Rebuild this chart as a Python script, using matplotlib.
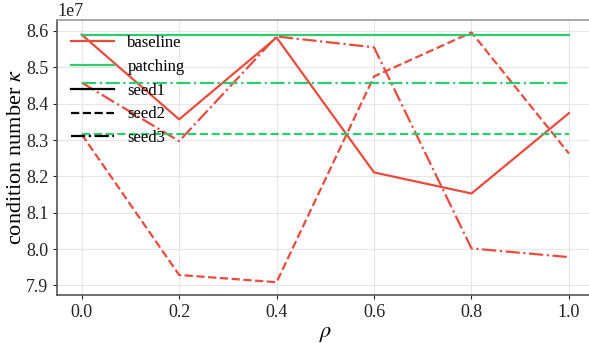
import numpy as np
import matplotlib
matplotlib.use("Agg")
import matplotlib.pyplot as plt
from matplotlib.lines import Line2D

# rho sweep and condition numbers (in units of 1e7) per seed
rho = [0.0, 0.2, 0.4, 0.6, 0.8, 1.0]
seeds = ["seed1", "seed2", "seed3"]
baseline_seed1 = [8.590, 8.357, 8.582, 8.211, 8.153, 8.374]
baseline_seed2 = [8.316, 7.929, 7.909, 8.475, 8.596, 8.263]
baseline_seed3 = [8.458, 8.297, 8.585, 8.555, 8.002, 7.978]
patching_per_seed = [8.590, 8.316, 8.457]

plt.rcParams['font.family'] = 'serif'
plt.rcParams['font.serif'] = ['Liberation Serif', 'STIXGeneral', 'DejaVu Serif']
plt.rcParams['mathtext.fontset'] = 'stix'
plt.rcParams['font.size'] = 13

RED = '#e74c3c'
GREEN = '#2ecc71'
styles = ['-', '--', '-.']

fig = plt.figure(figsize=(5.89, 3.43), dpi=100)
ax = fig.add_axes([0.0973, 0.1408, 0.910, 0.801])

baseline = [baseline_seed1, baseline_seed2, baseline_seed3]
for vals, ls in zip(baseline, styles):
    ax.plot(rho, np.array(vals) * 1e7, color=RED, ls=ls, lw=1.6)
for val, ls in zip(patching_per_seed, styles):
    ax.plot(rho, np.full(len(rho), val * 1e7), color=GREEN, ls=ls, lw=1.6)

ax.set_xticks(rho)
ax.set_yticks(np.array([7.9, 8.0, 8.1, 8.2, 8.3, 8.4, 8.5, 8.6]) * 1e7)
ax.grid(True, color='#e6e6e6', lw=0.8)
ax.set_axisbelow(True)
ax.set_xlabel(r'$\rho$', fontsize=16, labelpad=3)
ax.set_ylabel(r'condition number $\kappa$', fontsize=16, labelpad=0)
ax.tick_params(direction='out', length=3, width=0.8, colors='#222222', labelsize=13)
ax.yaxis.get_offset_text().set_fontsize(13)

for side in ['left', 'bottom']:
    ax.spines[side].set_color('#555555')
    ax.spines[side].set_linewidth(1.2)
for side in ['top', 'right']:
    ax.spines[side].set_color('#999999')
    ax.spines[side].set_linewidth(1.2)

handles = [
    Line2D([], [], color=RED, ls='-', lw=1.6),
    Line2D([], [], color=GREEN, ls='-', lw=1.6),
] + [Line2D([], [], color='black', ls=ls, lw=1.6) for ls in styles]
labels = ['baseline', 'patching'] + seeds
ax.legend(handles, labels, loc='upper left', frameon=False, handlelength=2.6,
          fontsize=12, labelspacing=0.47, bbox_to_anchor=(-0.003, 1.0))

fig.savefig('out.png', dpi=100)
